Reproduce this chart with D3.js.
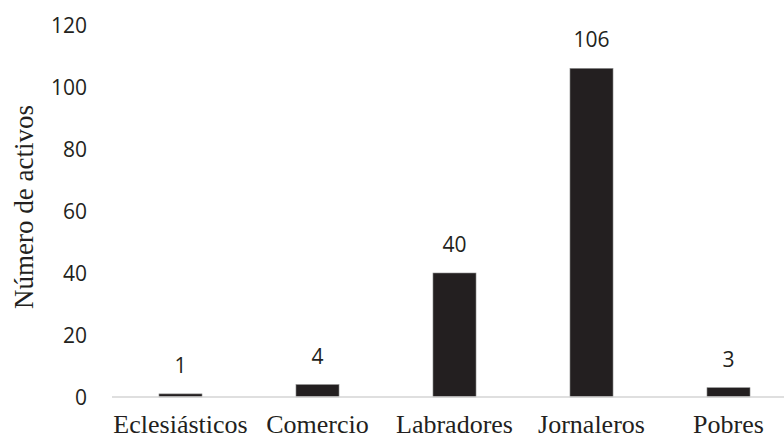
<!DOCTYPE html>
<html>
<head>
<meta charset="utf-8">
<script src="https://cdn.jsdelivr.net/npm/d3@7"></script>
<style>
  body { margin: 0; background: #fff; }
</style>
</head>
<body>
<script>
// Número de activos por categoría

var categories = ["Eclesiásticos", "Comercio", "Labradores", "Jornaleros", "Pobres"];
var values = [1, 4, 40, 106, 3];
var yTicks = [0, 20, 40, 60, 80, 100, 120];

var width = 784;
var height = 439;

var svg = d3.select("body").append("svg")
    .attr("width", width)
    .attr("height", height);

// plot area
var plotLeft = 112, plotRight = 797, plotTop = 25, plotBottom = 397;

var x = d3.scaleBand()
    .domain(categories)
    .range([plotLeft, plotRight])
    .padding(0);

var y = d3.scaleLinear()
    .domain([0, 120])
    .range([plotBottom, plotTop]);

var barWidth = x.bandwidth() * 0.314;

// y axis tick labels (no line, no ticks)
var yAxis = d3.axisLeft(y)
    .tickValues(yTicks)
    .tickSize(0)
    .tickPadding(0);

var gy = svg.append("g")
    .attr("transform", "translate(87,0)")
    .call(yAxis);
gy.select(".domain").remove();
gy.selectAll("text")
    .attr("font-family", "'Open Sans', sans-serif")
    .attr("font-size", 21)
    .attr("fill", "#231f20")
    .attr("dy", "0.35em");

// bars
svg.selectAll("rect.bar")
    .data(values)
    .enter()
    .append("rect")
    .attr("class", "bar")
    .attr("x", function(d, i) { return x(categories[i]) + x.bandwidth() / 2 - barWidth / 2; })
    .attr("y", function(d) { return y(d); })
    .attr("width", barWidth)
    .attr("height", function(d) { return y(0) - y(d); })
    .attr("fill", "#231f20")
    .attr("stroke", "#8a8a8a")
    .attr("stroke-width", 0.6);

// baseline
svg.append("line")
    .attr("x1", plotLeft)
    .attr("x2", width)
    .attr("y1", y(0))
    .attr("y2", y(0))
    .attr("stroke", "#d4d4d4")
    .attr("stroke-width", 1.5);

// value labels
svg.selectAll("text.val")
    .data(values)
    .enter()
    .append("text")
    .attr("class", "val")
    .attr("x", function(d, i) { return x(categories[i]) + x.bandwidth() / 2; })
    .attr("y", function(d) { return y(d) - 21; })
    .attr("text-anchor", "middle")
    .attr("font-family", "'Open Sans', sans-serif")
    .attr("font-size", 21)
    .attr("fill", "#231f20")
    .text(function(d) { return d; });

// category labels
var xAxis = d3.axisBottom(x).tickSize(0).tickPadding(0);
var gx = svg.append("g")
    .attr("transform", "translate(0,433)")
    .call(xAxis);
gx.select(".domain").remove();
gx.selectAll("text")
    .attr("dy", 0)
    .attr("y", 0)
    .attr("font-family", "'Liberation Serif', 'Times New Roman', serif")
    .attr("font-size", 26)
    .attr("fill", "#231f20");

// y title
svg.append("text")
    .attr("transform", "translate(33,207) rotate(-90)")
    .attr("text-anchor", "middle")
    .attr("font-family", "'Liberation Serif', 'Times New Roman', serif")
    .attr("font-size", 27)
    .attr("fill", "#231f20")
    .text("Número de activos");
</script>
</body>
</html>
